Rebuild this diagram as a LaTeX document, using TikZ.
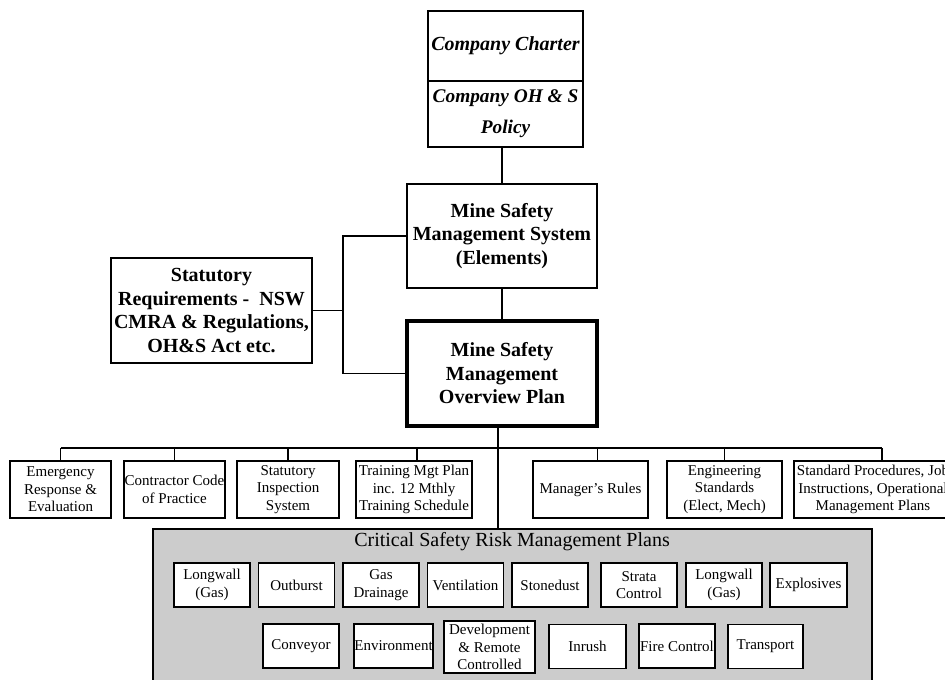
\documentclass[tikz,border=0pt]{standalone}
\usepackage{fontspec}
\setmainfont{Liberation Serif}
\usepackage{xcolor}
\usepackage{tikz}
\usetikzlibrary{positioning,calc}

\definecolor{planfill}{RGB}{204,204,204}
\newcommand{\bigtxt}{\fontsize{15}{17.6}\selectfont}
\newcommand{\smalltxt}{\fontsize{11.25}{13.1}\selectfont}

\begin{document}
\begin{tikzpicture}[x=0.75pt,y=-0.75pt,
    box/.style={draw,line width=1.1pt,fill=white,inner sep=0pt,align=center},
    topbox/.style={box,font=\bigtxt\bfseries\itshape},
    mainbox/.style={box,font=\bigtxt\bfseries},
    subbox/.style={box,minimum height=57*0.75pt,font=\smalltxt},
    riskbox/.style={box,minimum width=76*0.75pt,minimum height=44*0.75pt,font=\smalltxt},
    link/.style={line width=1pt}]
    \useasboundingbox (0,0) rectangle (945,679);

    % top of the hierarchy
    \node[topbox,minimum width=155*0.75pt,minimum height=70*0.75pt] (charter) at (505.5,46) {Company Charter};
    \node[topbox,minimum width=155*0.75pt,minimum height=66*0.75pt,font=\fontsize{14.5}{23.3}\selectfont\bfseries\itshape] (policy) at (505.5,114) {Company OH \& S\\Policy};
    \node[mainbox,minimum width=190*0.75pt,minimum height=104*0.75pt] (msms) at (502,236) {Mine Safety\\Management System\\(Elements)};
    \node[mainbox,line width=2.4pt,minimum width=190*0.75pt,minimum height=105*0.75pt] (ovp) at (502,373.5) {Mine Safety\\Management\\Overview Plan};
    \node[mainbox,minimum width=201*0.75pt,minimum height=105*0.75pt] (statreq) at (211.5,310.5) {Statutory\\Requirements - \ NSW\\CMRA \& Regulations,\\OH\&S Act etc.};

    \draw[link] (msms.north) -- (msms.north |- policy.south);
    \draw[link] (msms.south) -- (ovp.north);
    \coordinate (join) at (343,310.5);
    \draw[link] (statreq.east) -- (join);
    \draw[link] (msms.west) -| (join) |- (ovp.west);

    % second row
    \node[subbox,minimum width=101*0.75pt] (emerg) at (60.5,489.5) {Emergency\\Response \&\\Evaluation};
    \node[subbox,minimum width=101*0.75pt] (contr) at (174.5,489.5) {Contractor Code\\of Practice};
    \node[subbox,minimum width=102*0.75pt] (inspect) at (288,489.5) {Statutory\\Inspection\\System};
    \node[subbox,minimum width=116*0.75pt] (train) at (414,489.5) {Training Mgt Plan\\inc. 12 Mthly\\Training Schedule};
    \node[subbox,minimum width=115*0.75pt] (rules) at (590.5,489.5) {Manager's Rules};
    \node[subbox,minimum width=115*0.75pt] (engstd) at (724.5,489.5) {Engineering\\Standards\\(Elect, Mech)};
    \node[subbox,minimum width=158*0.75pt] (stdproc) at (873,489.5) {Standard Procedures, Job\\Instructions, Operational\\Management Plans};

    \coordinate (bus) at (0,448);
    \draw[link] (emerg.north |- bus) -- ($(stdproc.north |- bus)+(9,0)$);
    \draw[link] (emerg.north) -- (emerg.north |- bus);
    \draw[link] (contr.north) -- (contr.north |- bus);
    \draw[link] (inspect.north) -- (inspect.north |- bus);
    \draw[link] ($(train.north)+(3,0)$) -- ($(train.north |- bus)+(3,0)$);
    \draw[link] ($(rules.north)+(7,0)$) -- ($(rules.north |- bus)+(7,0)$);
    \draw[link] (engstd.north) -- (engstd.north |- bus);
    \draw[link] ($(stdproc.north)+(9,0)$) -- ($(stdproc.north |- bus)+(9,0)$);

    % critical plans panel
    \node[draw,line width=1pt,fill=planfill,inner sep=0pt,minimum width=719*0.75pt,minimum height=165*0.75pt] (crit) at (512.5,611.5) {};
    \node[font=\fontsize{15}{18}\selectfont,inner sep=0pt] (crittitle) at (512,542) {Critical Safety Risk Management Plans};
    \draw[link] ($(ovp.south)+(-4,0)$) -- ($(ovp.south |- crit.north)+(-4,0)$);

    \node[riskbox] (lwgas) at (212,585) {Longwall\\(Gas)};
    \node[riskbox] (outb) at (296.5,585) {Outburst};
    \node[riskbox] (gasdr) at (381,585) {Gas\\Drainage};
    \node[riskbox] (vent) at (465.5,585) {Ventilation};
    \node[riskbox] (stone) at (550,585) {Stonedust};
    \node[riskbox] (strata) at (639,585) {Strata\\Control};
    \node[riskbox] (lwgasb) at (724,585) {Longwall\\(Gas)};
    \node[riskbox,minimum width=77*0.75pt] (explo) at (808.5,585) {Explosives};

    \node[riskbox] (conv) at (301,646) {Conveyor};
    \node[riskbox,minimum width=79*0.75pt] (envir) at (393.5,646) {Environment};
    \node[riskbox,minimum width=91*0.75pt,minimum height=52*0.75pt] (devel) at (489.5,647) {Development\\\& Remote\\Controlled};
    \node[riskbox,minimum width=77*0.75pt] (inrush) at (587.5,646.5) {Inrush};
    \node[riskbox] (fire) at (677,646) {Fire Control};
    \node[riskbox,minimum width=75*0.75pt] (transp) at (765.5,646.5) {Transport};
\end{tikzpicture}
\end{document}
